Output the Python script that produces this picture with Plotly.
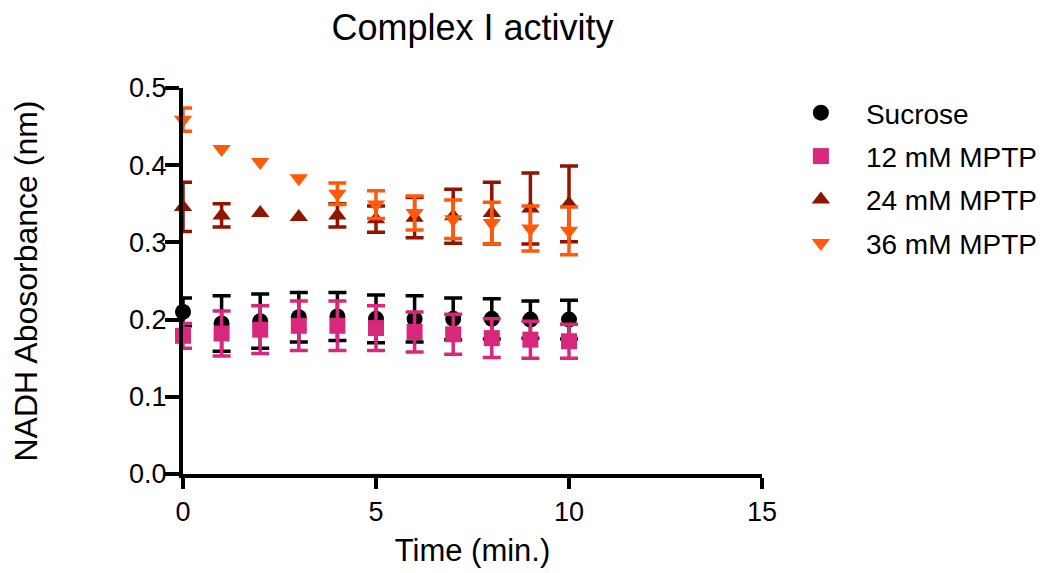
import plotly.graph_objects as go

time_min = [0, 1, 2, 3, 4, 5, 6, 7, 8, 9, 10]

sucrose = [0.210, 0.195, 0.198, 0.203, 0.204, 0.201, 0.201, 0.201, 0.201, 0.200, 0.200]
sucrose_err = [0.018, 0.036, 0.035, 0.032, 0.031, 0.031, 0.030, 0.027, 0.026, 0.024, 0.025]

mptp12 = [0.179, 0.182, 0.187, 0.192, 0.192, 0.189, 0.184, 0.181, 0.176, 0.174, 0.172]
mptp12_err = [0.016, 0.029, 0.031, 0.032, 0.032, 0.029, 0.026, 0.026, 0.025, 0.024, 0.022]

# None = error bar hidden behind the marker in the reference
mptp24 = [0.346, 0.335, 0.338, 0.333, 0.335, 0.330, 0.332, 0.334, 0.338, 0.344, 0.350]
mptp24_err = [0.032, 0.015, None, None, 0.015, 0.017, 0.026, 0.035, 0.040, 0.046, 0.049]

mptp36 = [0.459, 0.421, 0.404, 0.383, 0.363, 0.349, 0.338, 0.330, 0.325, 0.318, 0.315]
mptp36_err = [0.015, None, None, None, 0.014, 0.018, 0.022, 0.025, 0.027, 0.029, 0.031]

names = ["Sucrose", "12 mM MPTP", "24 mM MPTP", "36 mM MPTP"]
colors = ["#000000", "#D8287D", "#8E1500", "#FF5A0A"]
symbols = ["circle", "square", "triangle-up", "triangle-down"]
series = [sucrose, mptp12, mptp24, mptp36]
errors = [sucrose_err, mptp12_err, mptp24_err, mptp36_err]

FONT = "Liberation Sans, Arial, Helvetica, sans-serif"

fig = go.Figure()
for name, c, s, y, e in zip(names, colors, symbols, series, errors):
    idx = [i for i, v in enumerate(e) if v is not None]
    # error bars (only where visible)
    fig.add_trace(go.Scatter(
        x=[time_min[i] for i in idx], y=[y[i] for i in idx], mode="markers",
        showlegend=False, legendgroup=name, hoverinfo="skip",
        marker=dict(color=c, size=2, opacity=0),
        error_y=dict(type="data", array=[e[i] for i in idx], visible=True,
                     color=c, thickness=3.5, width=9),
        cliponaxis=False,
    ))
    # markers
    fig.add_trace(go.Scatter(
        x=time_min, y=y, mode="markers", name=name, legendgroup=name,
        marker=dict(color=c, symbol=s, size=16, line=dict(width=0)),
        cliponaxis=False,
    ))

fig.update_layout(
    width=1050, height=565,
    margin=dict(l=175, r=296, t=80, b=99, autoexpand=False),
    paper_bgcolor="white", plot_bgcolor="white",
    font=dict(family=FONT, size=27, color="black"),
    title=dict(text="Complex I activity", x=0.5, xref="paper", xanchor="center",
               y=1 - 7 / 565, yref="container", yanchor="top", pad=dict(t=0),
               font=dict(size=36, family=FONT)),
    legend=dict(x=1.024, xanchor="left", y=1.0, yanchor="top",
                font=dict(size=28, family=FONT), tracegroupgap=4,
                itemwidth=80, bgcolor="rgba(0,0,0,0)"),
    showlegend=True,
)
fig.update_xaxes(
    range=[0, 15], tickvals=[0, 5, 10, 15], showgrid=False, zeroline=False,
    showline=True, linewidth=4, linecolor="black",
    ticks="outside", ticklen=11, tickwidth=4, tickcolor="black",
    tickfont=dict(size=27), title=dict(text="Time (min.)", font=dict(size=31), standoff=14),
)
fig.update_yaxes(
    range=[0, 0.5], tickvals=[0, 0.1, 0.2, 0.3, 0.4, 0.5], tickformat=".1f",
    showgrid=False, zeroline=False,
    showline=True, linewidth=4, linecolor="black",
    ticks="outside", ticklen=14, tickwidth=4, tickcolor="black",
    ticklabelstandoff=-7,
    tickfont=dict(size=27), title=dict(text="NADH Abosorbance (nm)", font=dict(size=32), standoff=84),
)

fig.write_html("out.html")
